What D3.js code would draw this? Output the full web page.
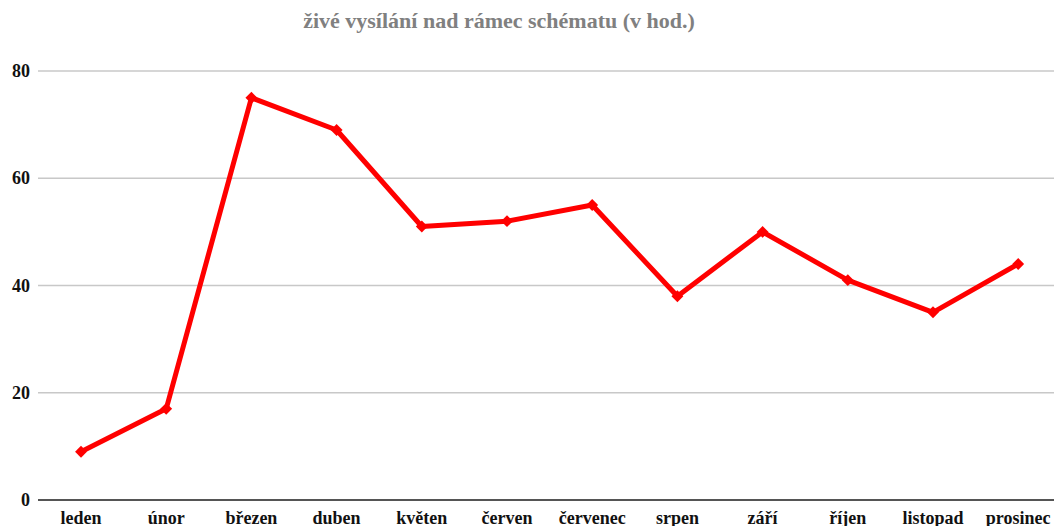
<!DOCTYPE html>
<html><head><meta charset="utf-8">
<script src="https://cdn.jsdelivr.net/npm/d3@7"></script>
<style>html,body{margin:0;padding:0;background:#fff;overflow:hidden}</style>
</head><body>
<svg id="c" width="1054" height="526"></svg>
<script>
const categories = ["leden","únor","březen","duben","květen","červen","červenec","srpen","září","říjen","listopad","prosinec"];
const values = [9,17,75,69,51,52,55,38,50,41,35,44];
const yTicks = [0,20,40,60,80];
const title = "živé vysílání nad rámec schématu (v hod.)";

const svg = d3.select("#c");
const font = "'Liberation Serif','Times New Roman',serif";
const x = d3.scaleBand().domain(categories).range([38.4, 1060.8]);
const y = d3.scaleLinear().domain([0,80]).range([500,71]);
const cx = d => x(d) + x.bandwidth()/2;

svg.append("text").attr("x",499).attr("y",28).attr("text-anchor","middle")
  .attr("font-family",font).attr("font-weight","bold").attr("font-size",22).attr("fill","#808080").text(title);

const g = svg.append("g");
g.selectAll("line.grid").data(yTicks.filter(t=>t>0)).join("line")
  .attr("x1",38).attr("x2",1054).attr("y1",d=>y(d)).attr("y2",d=>y(d))
  .attr("stroke","#c8c8c8").attr("stroke-width",1.3);
g.append("line").attr("x1",38).attr("x2",1054).attr("y1",y(0)).attr("y2",y(0))
  .attr("stroke","#555").attr("stroke-width",2);

g.selectAll("text.yl").data(yTicks).join("text")
  .attr("x",30).attr("y",d=>y(d)+6).attr("text-anchor","end")
  .attr("font-family",font).attr("font-weight","bold").attr("font-size",18).attr("fill","#111").text(d=>d);

g.selectAll("text.xl").data(categories).join("text")
  .attr("x",d=>cx(d)).attr("y",524).attr("text-anchor","middle")
  .attr("font-family",font).attr("font-weight","bold").attr("font-size",18).attr("fill","#111").text(d=>d);

const line = d3.line().x((d,i)=>cx(categories[i])).y(d=>y(d));
g.append("path").datum(values).attr("d",line).attr("fill","none")
  .attr("stroke","#ff0000").attr("stroke-width",5).attr("stroke-linejoin","round");

g.selectAll("path.m").data(values).join("path")
  .attr("transform",(d,i)=>`translate(${cx(categories[i])},${y(d)})`)
  .attr("d",d3.symbol(d3.symbolDiamond2,90)).attr("fill","#ff0000");
</script>
</body></html>
